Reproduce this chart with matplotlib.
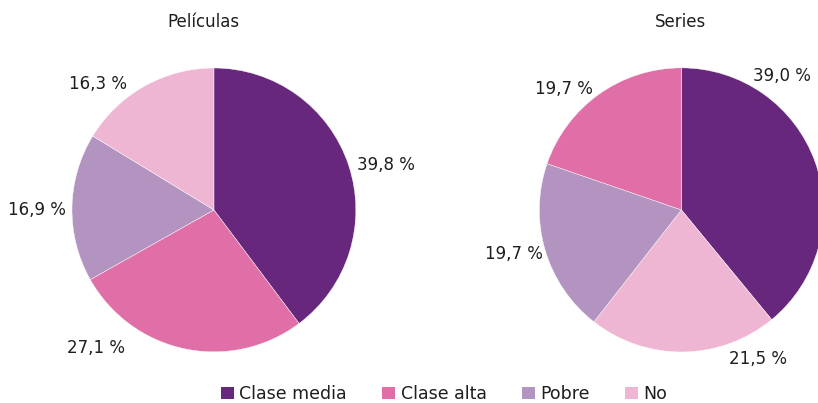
import matplotlib.pyplot as plt
from matplotlib.patches import Patch

categorias = ['Clase media', 'Clase alta', 'Pobre', 'No']
colores = {'Clase media': '#67277c', 'Clase alta': '#e06fa7',
           'Pobre': '#b393c0', 'No': '#efb6d4'}

# Películas (orden horario desde arriba)
peliculas_cat = ['Clase media', 'Clase alta', 'Pobre', 'No']
peliculas_val = [39.8, 27.1, 16.9, 16.3]

# Series
series_cat = ['Clase media', 'No', 'Pobre', 'Clase alta']
series_val = [39.0, 21.5, 19.7, 19.7]

# posiciones de las etiquetas (en radios del pastel)
peliculas_pos = [(1.21, 0.32), (-0.83, -0.97), (-1.25, 0.0), (-0.82, 0.89)]
series_pos = [(0.71, 0.94), (0.54, -1.05), (-1.18, -0.31), (-0.83, 0.85)]

texto = '#1e1e1e'
plt.rcParams['font.family'] = 'DejaVu Sans'

fig = plt.figure(figsize=(8.18, 4.03), dpi=100)


def pastel(rect, cats, vals, posiciones, titulo, titulo_x):
    ax = fig.add_axes(rect)
    ax.pie(vals, colors=[colores[c] for c in cats], startangle=90,
           counterclock=False, radius=1,
           wedgeprops={'linewidth': 0.3, 'edgecolor': 'white'})
    ax.set_xlim(-1, 1)
    ax.set_ylim(-1, 1)
    ax.set_aspect('equal')
    for v, (x, y) in zip(vals, posiciones):
        ax.text(x, y, f'{v:.1f} %'.replace('.', ','), ha='center', va='center',
                fontsize=12, color=texto, clip_on=False)
    fig.text(titulo_x, 0.945, titulo, ha='center', va='center',
             fontsize=12, color=texto)


pastel([0.088, 0.1266, 0.347, 0.705], peliculas_cat, peliculas_val,
       peliculas_pos, 'Películas', 0.249)
pastel([0.659, 0.1266, 0.348, 0.705], series_cat, series_val,
       series_pos, 'Series', 0.832)

handles = [Patch(facecolor=colores[c], label=c) for c in categorias]
fig.legend(handles=handles, loc='center', bbox_to_anchor=(0.543, 0.022),
           ncol=4, frameon=False, fontsize=12.5, handlelength=0.75,
           handleheight=0.75, handletextpad=0.3, columnspacing=2.05,
           labelcolor=texto)

fig.savefig('out.png', dpi=100)
